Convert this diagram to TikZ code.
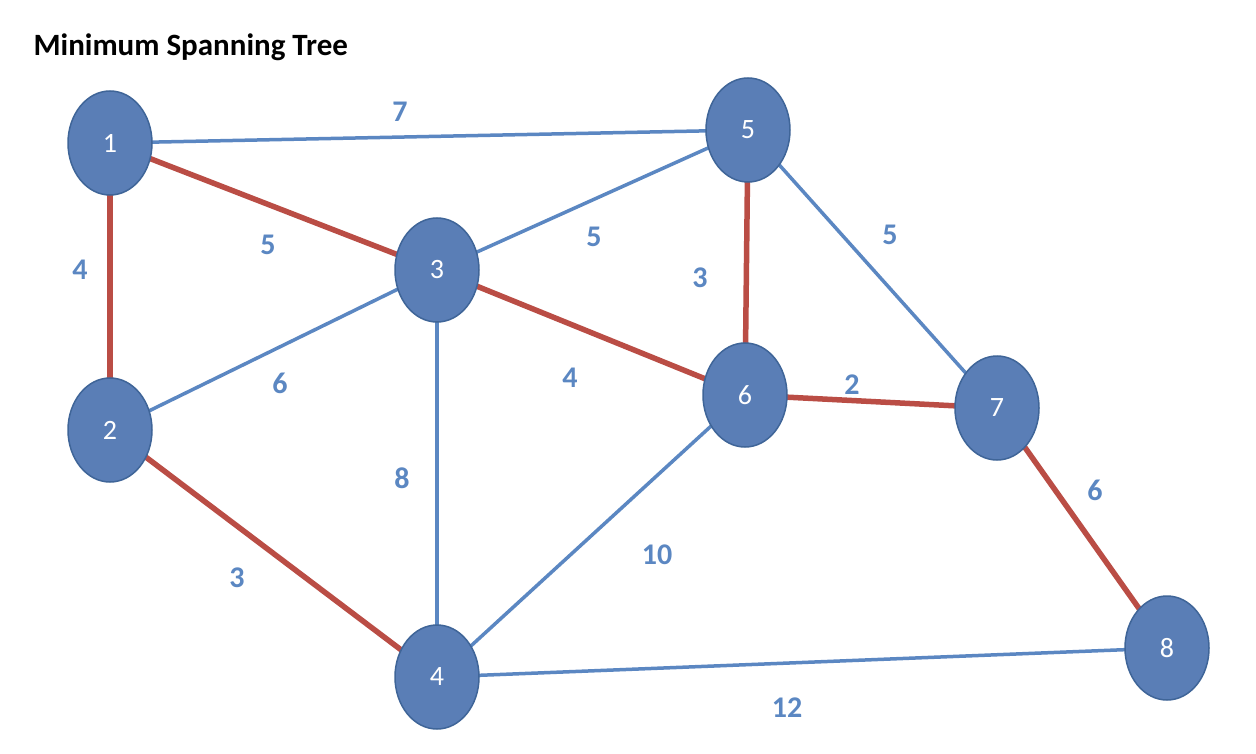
\documentclass[tikz,border=0pt]{standalone}
\usepackage{fontspec}
\setmainfont{Carlito}
\usetikzlibrary{shapes.geometric}
\definecolor{eblue}{HTML}{5B87C2}
\definecolor{ered}{HTML}{BA4D45}
\definecolor{nfill}{HTML}{5A7EB6}
\definecolor{nline}{HTML}{3F6598}
\begin{document}
\begin{tikzpicture}[x=1pt,y=-1pt,
  vert/.style={ellipse,draw=nline,line width=1.5pt,fill=nfill,minimum width=84pt,minimum height=104pt,inner sep=0pt,text=white,font=\fontsize{28}{30}\selectfont},
  be/.style={draw=eblue,line width=3.5pt},
  re/.style={draw=ered,line width=5.5pt},
  wl/.style={text=eblue,font=\fontsize{30}{32}\selectfont\bfseries}]
\useasboundingbox (0,0) rectangle (1256,754);
\fill[white] (0,0) rectangle (1256,754);
\node[anchor=west,font=\fontsize{31}{33}\selectfont\bfseries] (title) at (30,47) {Minimum Spanning Tree};
\coordinate (c1) at (110,143); \coordinate (c2) at (110,430);
\coordinate (c3) at (437,270); \coordinate (c4) at (437,677);
\coordinate (c5) at (748,130); \coordinate (c6) at (745,395);
\coordinate (c7) at (997,408); \coordinate (c8) at (1167,648);
\draw[be] (c1)--(c5); \draw[be] (c3)--(c5); \draw[be] (c2)--(c3);
\draw[be] (c3)--(c4); \draw[be] (c4)--(c6); \draw[be] (c5)--(c7);
\draw[be] (c4)--(c8);
\draw[re] (c1)--(c2); \draw[re] (c1)--(c3); \draw[re] (c2)--(c4);
\draw[re] (c3)--(c6); \draw[re] (c5)--(c6); \draw[re] (c6)--(c7);
\draw[re] (c7)--(c8);
\foreach \i in {1,...,8} \node[vert] (n\i) at (c\i) {\i};
\node[wl] (l15) at (400,112) {7};
\node[wl] (l13) at (268,245) {5};
\node[wl] (l12) at (80,270) {4};
\node[wl] (l23) at (280,383) {6};
\node[wl] (l24) at (237,578) {3};
\node[wl] (l34) at (402,478) {8};
\node[wl] (l35) at (594,237) {5};
\node[wl] (l56) at (700,278) {3};
\node[wl] (l36) at (570,378) {4};
\node[wl] (l46) at (657,555) {10};
\node[wl] (l57) at (890,235) {5};
\node[wl] (l67) at (852,385) {2};
\node[wl] (l78) at (1095,490) {6};
\node[wl] (l48) at (787,708) {12};
\end{tikzpicture}
\end{document}
